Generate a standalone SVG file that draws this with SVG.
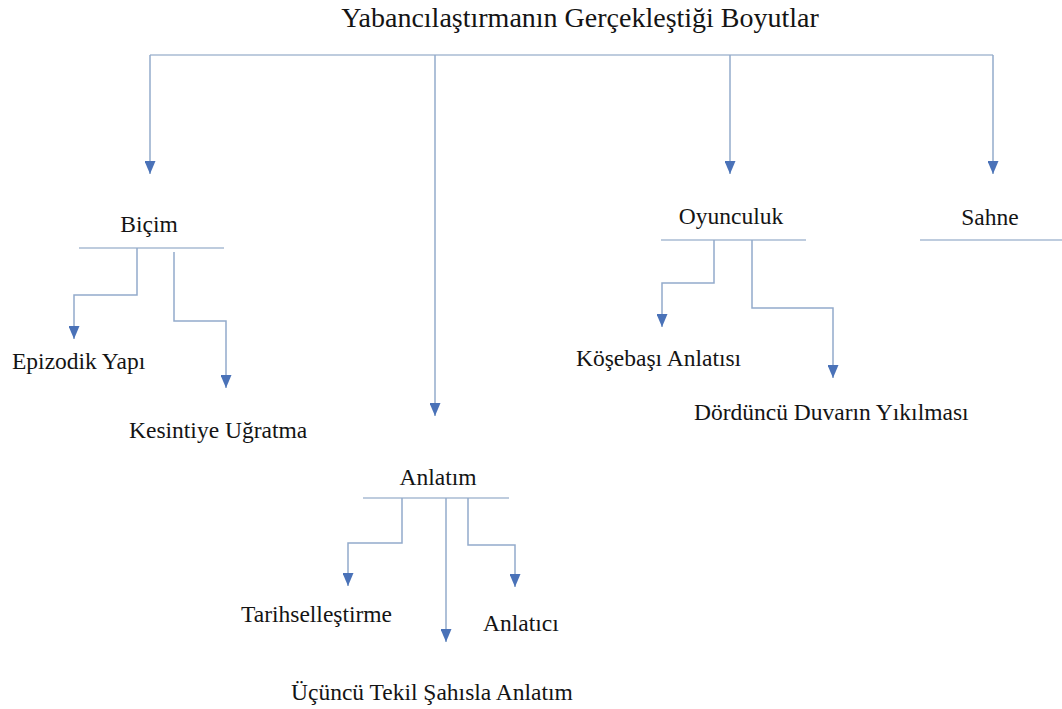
<svg xmlns="http://www.w3.org/2000/svg" width="1062" height="709" viewBox="0 0 1062 709">
  <style>
    text { font-family: "Liberation Serif", "DejaVu Serif", serif; fill: #141414; }
    .lbl { font-size: 23.5px; }
    .title { font-size: 28px; }
    .bar { stroke: #a9bbd3; stroke-width: 1.5; fill: none; }
    .edge { stroke: #93abcb; stroke-width: 1.5; fill: none; marker-end: url(#tip); }
  </style>
  <defs>
    <!-- small solid arrowhead, drawn pointing along +x -->
    <marker id="tip" markerUnits="userSpaceOnUse" markerWidth="13" markerHeight="11" viewBox="0 0 13 11" refX="13" refY="5.5" orient="auto">
      <path d="M0,0 L13,5.5 L0,11 Z" fill="#4a72b8"/>
    </marker>
  </defs>
  <rect width="1062" height="709" fill="#ffffff"/>

  <!-- root -->
  <g id="root">
    <text class="title" x="580" y="27" text-anchor="middle">Yabancılaştırmanın Gerçekleştiği Boyutlar</text>
  </g>

  <!-- first level -->
  <g id="bicim">
    <text class="lbl" x="149" y="232" text-anchor="middle">Biçim</text>
    <line class="bar" x1="79" y1="248" x2="224" y2="248"/>
  </g>
  <g id="oyunculuk">
    <text class="lbl" x="731" y="224" text-anchor="middle">Oyunculuk</text>
    <line class="bar" x1="661" y1="240" x2="806" y2="240"/>
  </g>
  <g id="sahne">
    <text class="lbl" x="990" y="225" text-anchor="middle">Sahne</text>
    <line class="bar" x1="920" y1="240" x2="1062" y2="240"/>
  </g>
  <g id="anlatim">
    <text class="lbl" x="438" y="485" text-anchor="middle">Anlatım</text>
    <line class="bar" x1="363" y1="498" x2="509" y2="498"/>
  </g>

  <!-- second level -->
  <g id="epizodik">
    <text class="lbl" x="12" y="369">Epizodik Yapı</text>
  </g>
  <g id="kesinti">
    <text class="lbl" x="129" y="438">Kesintiye Uğratma</text>
  </g>
  <g id="kosebasi">
    <text class="lbl" x="576" y="366">Köşebaşı Anlatısı</text>
  </g>
  <g id="dorduncu">
    <text class="lbl" x="694" y="420">Dördüncü Duvarın Yıkılması</text>
  </g>
  <g id="tarihsel">
    <text class="lbl" x="241" y="622">Tarihselleştirme</text>
  </g>
  <g id="anlatici">
    <text class="lbl" x="483" y="631">Anlatıcı</text>
  </g>
  <g id="ucuncu">
    <text class="lbl" x="291" y="700">Üçüncü Tekil Şahısla Anlatım</text>
  </g>

  <!-- connectors -->
  <g id="connectors">
    <line class="bar" x1="150" y1="55" x2="993" y2="55"/>
    <path class="edge" d="M150,55 V174"/>
    <path class="edge" d="M435,55 V416"/>
    <path class="edge" d="M730,55 V174"/>
    <path class="edge" d="M993,55 V174"/>

    <path class="edge" d="M137,248 V295 H74 V339"/>
    <path class="edge" d="M174,252 V321 H226 V388"/>

    <path class="edge" d="M714,240 V283 H662 V327"/>
    <path class="edge" d="M752,240 V308 H833 V378"/>

    <path class="edge" d="M402,498 V543 H348 V586"/>
    <path class="edge" d="M446,498 V642"/>
    <path class="edge" d="M468,498 V545 H515 V587"/>
  </g>
</svg>
